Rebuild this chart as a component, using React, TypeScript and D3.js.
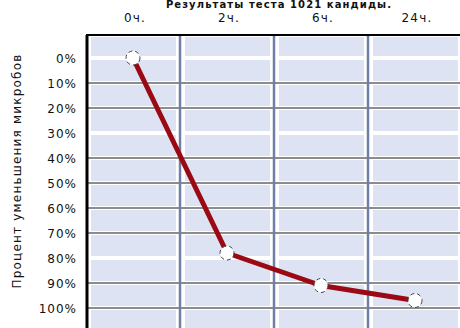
import React from "react";
import * as d3 from "d3";

// Test times and the microbial reduction measured at each of them
const hours: string[] = ["0ч.", "2ч.", "6ч.", "24ч."];
const reduction: number[] = [0, 78, 91, 97];
const yTicks: number[] = [0, 10, 20, 30, 40, 50, 60, 70, 80, 90, 100];
// Gridlines drawn as dark rules; the others are left as white gaps
const ruledTicks: number[] = [10, 20, 40, 50, 60, 70, 90, 100];

const title = "Результаты теста 1021 кандиды.";
const yTitle = "Процент уменьшения микробов";

const W = 460;
const H = 328;
const plotLeft = 86;
const plotRight = 462;
const plotTop = 35;
const plotBottom = 335;

export default function App() {
  const x = d3.scaleBand<string>().domain(hours).range([plotLeft, plotRight]);
  const y = d3.scaleLinear().domain([0, 100]).range([58, 308]);

  const rowEdges = [plotTop, ...yTicks.map((t) => y(t)), plotBottom];
  const rows = d3.pairs(rowEdges);

  const line = d3
    .line<number>()
    .x((_, i) => (x(hours[i]) as number) + x.bandwidth() / 2)
    .y((d) => y(d));

  const font = "'DejaVu Sans', sans-serif";

  return (
    <svg
      width={W}
      height={H}
      style={{ position: "absolute", left: 0, top: 0, background: "#fff" }}
      fontFamily={font}
    >
      <text
        x={279}
        y={8}
        textAnchor="middle"
        fontSize={10}
        fontWeight="bold"
        letterSpacing={1.1}
        fill="#111"
      >
        {title}
      </text>

      {hours.map((h) => (
        <text
          key={h}
          x={(x(h) as number) + x.bandwidth() / 2 + 2}
          y={22}
          textAnchor="middle"
          fontSize={12}
          letterSpacing={1.2}
          fill="#111"
        >
          {h}
        </text>
      ))}

      {/* cell fills */}
      {hours.map((h) =>
        rows.map(([a, b], j) => (
          <rect
            key={h + j}
            x={(x(h) as number) + 5}
            y={a + 2}
            width={x.bandwidth() - 9}
            height={b - a - 4}
            fill="#dde3f2"
          />
        ))
      )}

      {/* dark horizontal rules */}
      {ruledTicks.map((t) => (
        <line
          key={t}
          x1={plotLeft}
          x2={plotRight}
          y1={y(t)}
          y2={y(t)}
          stroke="#1a1a1a"
          strokeWidth={1.2}
        />
      ))}

      {/* column separators */}
      {hours.slice(1).map((h) => (
        <line
          key={h}
          x1={x(h) as number}
          x2={x(h) as number}
          y1={plotTop}
          y2={plotBottom}
          stroke="#6f7fa8"
          strokeWidth={2.5}
        />
      ))}

      <line x1={plotLeft} x2={plotRight} y1={plotTop} y2={plotTop} stroke="#000" strokeWidth={2} />
      <line x1={plotLeft + 1} x2={plotLeft + 1} y1={plotTop} y2={plotBottom} stroke="#000" strokeWidth={3} />

      {yTicks.map((t) => (
        <text
          key={t}
          x={77}
          y={y(t) + 1}
          dy="0.35em"
          textAnchor="end"
          fontSize={12}
          letterSpacing={1}
          fill="#111"
        >
          {t}%
        </text>
      ))}

      <text
        transform={`translate(17,${171}) rotate(-90)`}
        textAnchor="middle"
        dy="0.35em"
        fontSize={12}
        letterSpacing={1.2}
        fill="#111"
      >
        {yTitle}
      </text>

      <path d={line(reduction) ?? ""} fill="none" stroke="#9b0a14" strokeWidth={5} strokeLinejoin="round" />

      {reduction.map((v, i) => (
        <circle
          key={i}
          cx={(x(hours[i]) as number) + x.bandwidth() / 2}
          cy={y(v)}
          r={7}
          fill="#fff"
          stroke="#444"
          strokeWidth={1}
          strokeDasharray="4 3"
        />
      ))}
    </svg>
  );
}
